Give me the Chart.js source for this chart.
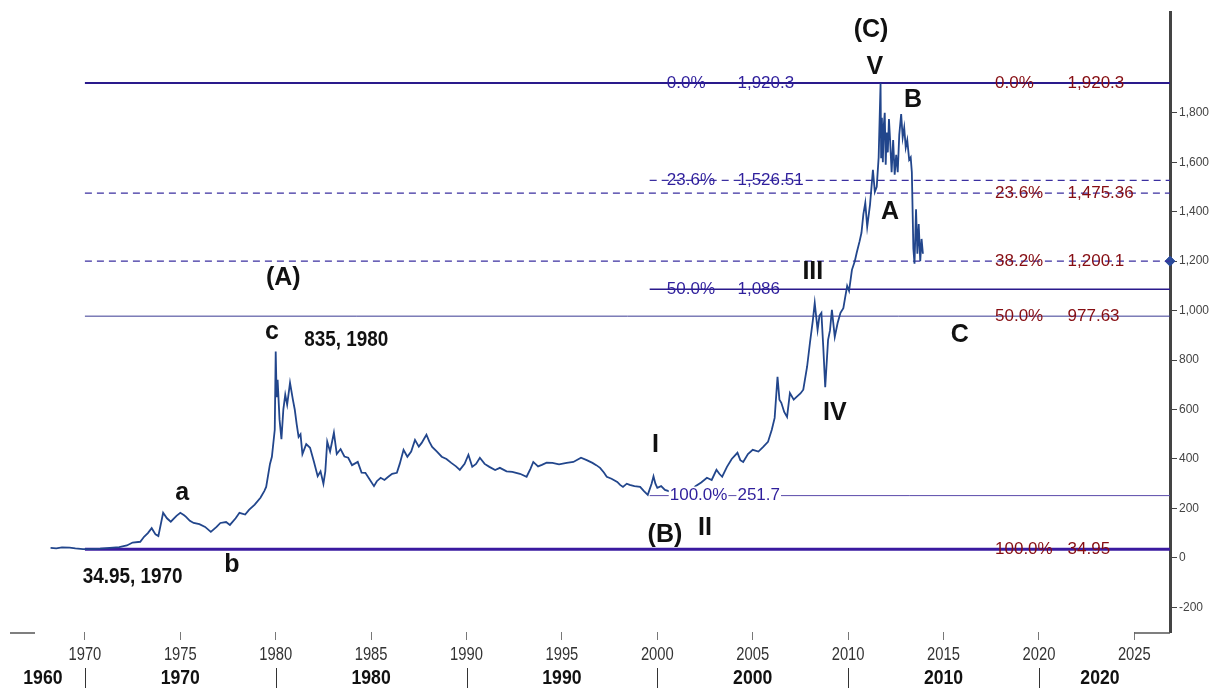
<!DOCTYPE html>
<html>
<head>
<meta charset="utf-8">
<script src="https://cdn.jsdelivr.net/npm/chart.js@4/dist/chart.umd.min.js"></script>
<style>
  html, body { margin: 0; padding: 0; background: #ffffff; }
  #wrap { width: 1214px; height: 688px; }
</style>
</head>
<body>
<div id="wrap"><canvas id="c" width="1214" height="688"></canvas></div>
<script>
// ---------- DATA ----------
const priceYears = [
  1968.2, 1968.5, 1968.8, 1969.2, 1969.5, 1969.9, 1970.3, 1970.8, 1971.3, 1971.8,
  1972.2, 1972.5, 1972.9, 1973.1, 1973.3, 1973.5, 1973.7, 1973.85, 1974.1, 1974.3,
  1974.5, 1974.8, 1975.0, 1975.2, 1975.3, 1975.5, 1975.7, 1976.0, 1976.3, 1976.6,
  1976.9, 1977.1, 1977.4, 1977.6, 1977.9, 1978.1, 1978.4, 1978.6, 1978.9, 1979.2,
  1979.4, 1979.5, 1979.7, 1979.8, 1979.95, 1980.0, 1980.05, 1980.1, 1980.2, 1980.3,
  1980.4, 1980.5, 1980.6, 1980.75, 1980.9, 1981.0, 1981.1, 1981.2, 1981.3, 1981.4,
  1981.6, 1981.8, 1982.0, 1982.2, 1982.35, 1982.5, 1982.6, 1982.7, 1982.85, 1983.05,
  1983.2, 1983.4, 1983.6, 1983.8, 1984.0, 1984.3, 1984.5, 1984.7, 1984.9, 1985.15,
  1985.3, 1985.5, 1985.7, 1985.9, 1986.1, 1986.35, 1986.5, 1986.7, 1986.9, 1987.1,
  1987.3, 1987.5, 1987.65, 1987.8, 1987.9, 1988.05, 1988.2, 1988.45, 1988.7, 1988.95,
  1989.2, 1989.45, 1989.65, 1989.9, 1990.1, 1990.3, 1990.5, 1990.7, 1990.95, 1991.2,
  1991.5, 1991.75, 1992.1, 1992.4, 1992.8, 1993.15, 1993.35, 1993.5, 1993.75, 1993.95,
  1994.2, 1994.5, 1994.85, 1995.25, 1995.6, 1996.0, 1996.3, 1996.6, 1996.8, 1997.0,
  1997.2, 1997.35, 1997.6, 1997.9, 1998.05, 1998.2, 1998.4, 1998.55, 1998.8, 1999.1,
  1999.3, 1999.5, 1999.7, 1999.8, 1999.9, 2000.0, 2000.2, 2000.4, 2000.6, 2000.8,
  2001.0, 2001.3, 2001.6, 2001.8, 2002.0, 2002.3, 2002.6, 2002.85, 2003.1, 2003.25,
  2003.4, 2003.65, 2003.9, 2004.2, 2004.35, 2004.5, 2004.75, 2005.0, 2005.3, 2005.55,
  2005.8, 2006.0, 2006.15, 2006.3, 2006.4, 2006.5, 2006.65, 2006.8, 2006.95, 2007.15,
  2007.3, 2007.5, 2007.65, 2007.85, 2008.0, 2008.15, 2008.25, 2008.4, 2008.5, 2008.6,
  2008.7, 2008.8, 2008.95, 2009.05, 2009.15, 2009.3, 2009.45, 2009.6, 2009.75, 2009.85,
  2009.95, 2010.05, 2010.2, 2010.35, 2010.45, 2010.6, 2010.7, 2010.8, 2010.9, 2011.0,
  2011.15, 2011.3, 2011.4, 2011.5, 2011.6, 2011.7, 2011.73, 2011.77, 2011.82, 2011.87,
  2011.92, 2011.97, 2012.02, 2012.08, 2012.14, 2012.2, 2012.28, 2012.36, 2012.44, 2012.52,
  2012.6, 2012.68, 2012.78, 2012.86, 2012.94, 2013.02, 2013.1, 2013.2, 2013.28, 2013.34,
  2013.42, 2013.48, 2013.56, 2013.63, 2013.7, 2013.78, 2013.85, 2013.92
];
const priceValues = [
  40, 38, 42, 41, 38, 35, 35, 37, 40, 43,
  50, 62, 65, 85, 100, 120, 95, 88, 182, 160,
  146, 170, 182, 172, 166, 150, 141, 136, 125, 105,
  125, 141, 145, 133, 160, 182, 175, 194, 215, 243,
  270, 287, 380, 409, 518, 835, 650, 720, 560, 480,
  600, 660, 620, 708, 640, 599, 540, 489, 500, 420,
  460, 445, 390, 330, 350, 300, 350, 470, 430, 506,
  420, 440, 410, 405, 375, 388, 345, 344, 320, 290,
  310, 324, 315, 328, 340, 344, 380, 437, 409, 430,
  477, 450, 465, 485, 498, 470, 449, 430, 409, 400,
  384, 370, 356, 380, 417, 368, 380, 405, 380, 368,
  355, 364, 350, 348, 340, 328, 360, 388, 370, 376,
  385, 384, 378, 384, 388, 405, 395, 384, 375, 364,
  345, 328, 320, 307, 295, 287, 300, 295, 290, 287,
  270, 255, 300, 330, 300, 283, 290, 275, 270, 263,
  265, 262, 270, 272, 290, 305, 324, 315, 356, 340,
  328, 368, 400, 425, 395, 388, 420, 437, 430, 449,
  469, 518, 566, 732, 640, 627, 590, 570, 667, 640,
  651, 665, 680, 773, 870, 960, 1031, 922, 980, 991,
  850, 690, 882, 920, 1003, 894, 950, 991, 1010, 1056,
  1100, 1080, 1165, 1200, 1234, 1280, 1315, 1390, 1436, 1339,
  1430, 1570, 1480, 1501, 1620, 1920, 1620, 1780, 1600, 1750,
  1800, 1590, 1720, 1640, 1775, 1690, 1560, 1690, 1550, 1630,
  1560, 1710, 1795, 1700, 1740, 1660, 1690, 1610, 1620, 1560,
  1250, 1190, 1410, 1230, 1350, 1200, 1290, 1230
];

const fibLevels    = [1920.3, 1526.51, 1475.36, 1200.1, 1086, 977.63, 251.7, 34.95];
const fibPct       = ['0.0%', '23.6%', '23.6%', '38.2%', '50.0%', '50.0%', '100.0%', '100.0%'];
const fibValueText = ['1,920.3', '1,526.51', '1,475.36', '1,200.1', '1,086', '977.63', '251.7', '34.95'];
const fibStartYear = [1970, 1999.6, 1970, 1970, 1999.6, 1970, 1999.6, 1970];
const blueLabelLines = [0, 1, 4, 6];
const redLabelLines  = [0, 2, 3, 5, 7];

const xTickYears   = [1970, 1975, 1980, 1985, 1990, 1995, 2000, 2005, 2010, 2015, 2020, 2025];
const yTickValues  = [-200, 0, 200, 400, 600, 800, 1000, 1200, 1400, 1600, 1800];
const decadeLabels = ['1960', '1970', '1980', '1990', '2000', '2010', '2020'];
const decadeLabelYears = [1967.8, 1975, 1985, 1995, 2005, 2015, 2023.2];
const decadeSeparatorYears = [1970, 1980, 1990, 2000, 2010, 2020];

const waveText  = ['(C)', 'V', 'B', 'A', '(A)', 'c', 'III', 'IV', 'C', 'I', '(B)', 'II', 'a', 'b'];
const waveYear  = [2011.2, 2011.4, 2013.4, 2012.2, 1980.4, 1979.8, 2008.15, 2009.3, 2015.85, 1999.9, 2000.4, 2002.5, 1975.1, 1977.7];
const waveValue = [2136, 1986, 1853, 1400, 1133, 914, 1157, 587, 902, 457, 93, 121, 263, -28];
const noteText  = ['835, 1980', '34.95, 1970'];
const noteYear  = [1983.7, 1972.5];
const noteValue = [882, -77];

const X_MIN = 1965.55, X_MAX = 2026.87, Y_MIN = -300, Y_MAX = 2208;

// ---------- STYLE ----------
const SANS = "'Liberation Sans', Arial, Helvetica, sans-serif";
const BLUE_TXT = '#2f1f9c';
const RED_TXT = '#860d12';
const fibStyles = [
  { color: '#2a1a8c', width: 2,   dash: [] },
  { color: '#3b2fa0', width: 1.3, dash: [7, 5] },
  { color: '#3b2fa0', width: 1.3, dash: [7, 5] },
  { color: '#3b2fa0', width: 1.3, dash: [7, 5] },
  { color: '#2a1a8c', width: 1.5, dash: [] },
  { color: '#3a3a92', width: 1,   dash: [] },
  { color: '#5a4aaa', width: 1,   dash: [] },
  { color: '#3a1aa0', width: 3,   dash: [] }
];

// ---------- DATASETS ----------
const datasets = [];
datasets.push({
  label: 'Gold',
  data: priceYears.map((y, i) => ({ x: y, y: priceValues[i] })),
  borderColor: '#22468c',
  borderWidth: 1.8,
  pointRadius: 0,
  tension: 0
});
fibLevels.forEach((lvl, i) => {
  datasets.push({
    label: 'fib' + i,
    data: [{ x: fibStartYear[i], y: lvl }, { x: X_MAX, y: lvl }],
    borderColor: fibStyles[i].color,
    borderWidth: fibStyles[i].width,
    borderDash: fibStyles[i].dash,
    pointRadius: 0
  });
});
datasets.push({
  label: 'marker',
  data: [{ x: X_MAX, y: fibLevels[3] }],
  showLine: false,
  pointStyle: 'rectRot',
  pointRadius: 5,
  pointBackgroundColor: '#2a4a9a',
  pointBorderColor: '#2a4a9a',
  clip: false
});

// ---------- PLUGIN ----------
function squeezeText(ctx, txt, x, y, sx) {
  ctx.save();
  ctx.translate(x, y);
  ctx.scale(sx, 1);
  ctx.fillText(txt, 0, 0);
  ctx.restore();
}

const overlay = {
  id: 'overlay',
  afterDatasetsDraw(chart) {
    const ctx = chart.ctx, xs = chart.scales.x, ys = chart.scales.y, ca = chart.chartArea;
    ctx.save();
    // Fib labels
    ctx.textBaseline = 'middle';
    ctx.textAlign = 'left';
    ctx.font = '17px ' + SANS;
    const drawPiece = (txt, px, py, color, bg) => {
      if (bg) {
        const w = ctx.measureText(txt).width;
        ctx.fillStyle = '#ffffff';
        ctx.fillRect(px - 1, py - 9, w + 2, 18);
      }
      ctx.fillStyle = color;
      ctx.fillText(txt, px, py);
    };
    blueLabelLines.forEach(i => {
      const py = ys.getPixelForValue(fibLevels[i]);
      const bg = i === 6;
      drawPiece(fibPct[i], xs.getPixelForValue(i === 6 ? 2000.65 : 2000.5), py, BLUE_TXT, bg);
      drawPiece(fibValueText[i], xs.getPixelForValue(2004.2), py, BLUE_TXT, bg);
    });
    redLabelLines.forEach(i => {
      const py = ys.getPixelForValue(fibLevels[i]);
      drawPiece(fibPct[i], xs.getPixelForValue(2017.7), py, RED_TXT, false);
      drawPiece(fibValueText[i], xs.getPixelForValue(2021.5), py, RED_TXT, false);
    });
    // Wave labels
    ctx.textAlign = 'center';
    ctx.fillStyle = '#111111';
    ctx.font = 'bold 25px ' + SANS;
    waveText.forEach((t, i) => {
      ctx.fillText(t, xs.getPixelForValue(waveYear[i]), ys.getPixelForValue(waveValue[i]));
    });
    ctx.font = 'bold 22px ' + SANS;
    noteText.forEach((t, i) => {
      squeezeText(ctx, t, xs.getPixelForValue(noteYear[i]), ys.getPixelForValue(noteValue[i]), 0.86);
    });
    // x tick labels (narrow)
    ctx.font = '18px ' + SANS;
    ctx.fillStyle = '#333333';
    xTickYears.forEach(y => {
      squeezeText(ctx, String(y), xs.getPixelForValue(y), ca.bottom + 23, 0.82);
    });
    // Decade row
    ctx.font = 'bold 21px ' + SANS;
    ctx.fillStyle = '#111111';
    decadeLabels.forEach((t, i) => {
      squeezeText(ctx, t, xs.getPixelForValue(decadeLabelYears[i]), ca.bottom + 46, 0.84);
    });
    ctx.strokeStyle = '#333333';
    ctx.lineWidth = 1;
    decadeSeparatorYears.forEach(y => {
      const px = Math.round(xs.getPixelForValue(y)) + 0.5;
      ctx.beginPath();
      ctx.moveTo(px, ca.bottom + 36);
      ctx.lineTo(px, ca.bottom + 56);
      ctx.stroke();
    });
    // small baseline fragments
    ctx.strokeStyle = '#555555';
    ctx.lineWidth = 1.5;
    ctx.beginPath();
    ctx.moveTo(ca.left + 10, ca.bottom + 1);
    ctx.lineTo(ca.left + 35, ca.bottom + 1);
    ctx.moveTo(xs.getPixelForValue(2025), ca.bottom + 1);
    ctx.lineTo(ca.right, ca.bottom + 1);
    ctx.stroke();
    ctx.restore();
  }
};

// ---------- CHART ----------
new Chart(document.getElementById('c'), {
  type: 'line',
  data: { datasets },
  plugins: [overlay],
  options: {
    responsive: false,
    animation: false,
    devicePixelRatio: 1,
    layout: { autoPadding: false, padding: { top: 12, left: 0, right: 0, bottom: 0 } },
    plugins: { legend: { display: false }, tooltip: { enabled: false } },
    scales: {
      x: {
        type: 'linear', position: 'bottom', min: X_MIN, max: X_MAX,
        afterBuildTicks: s => { s.ticks = xTickYears.map(v => ({ value: v })); },
        afterFit: s => { s.height = 56; s.paddingLeft = 0; s.paddingRight = 0; },
        grid: { drawOnChartArea: false, drawTicks: true, tickLength: 8, color: '#777777' },
        border: { display: false },
        ticks: { display: false, autoSkip: false, maxRotation: 0 }
      },
      y: {
        type: 'linear', position: 'right', min: Y_MIN, max: Y_MAX,
        afterBuildTicks: s => { s.ticks = yTickValues.map(v => ({ value: v })); },
        afterFit: s => { s.width = 44; s.paddingTop = 0; s.paddingBottom = 0; },
        grid: { drawOnChartArea: false, drawTicks: true, tickLength: 7, color: '#444444' },
        border: { display: true, color: '#444444', width: 3, dash: [2, 1] },
        ticks: {
          padding: 2, color: '#444444',
          font: { family: SANS, size: 12 },
          callback: v => v.toLocaleString('en-US')
        }
      }
    }
  }
});
</script>
</body>
</html>
